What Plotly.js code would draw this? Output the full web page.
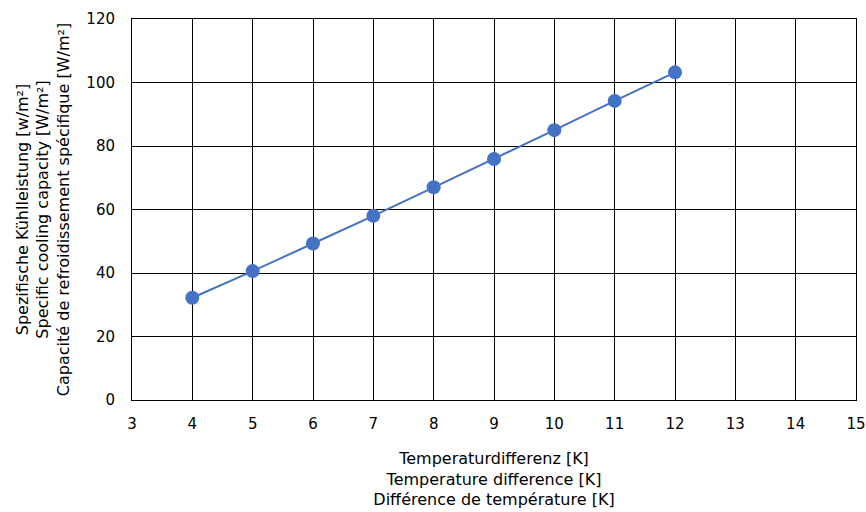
<!DOCTYPE html>
<html><head><meta charset="utf-8">
<script src="https://cdn.plot.ly/plotly-3.0.1.min.js"></script>
<style>html,body{margin:0;padding:0;background:#fff}#c{width:866px;height:512px}</style>
</head><body><div id="c"></div>
<script>
const tempDiff = [4, 5, 6, 7, 8, 9, 10, 11, 12];
const coolingCapacity = [32.2, 40.6, 49.3, 58.0, 67.0, 75.9, 85.0, 94.2, 103.2];
const xTitle = "Temperaturdifferenz [K]<br>Temperature difference [K]<br>Différence de température [K]";
const yTitle = "Spezifische Kühlleistung [w/m²]<br>Specific cooling capacity [W/m²]<br>Capacité de refroidissement spécifique [W/m²]";

Plotly.newPlot('c', [{
  x: tempDiff, y: coolingCapacity, type: 'scatter', mode: 'lines+markers',
  line: {color: '#4472C4', width: 2},
  marker: {color: '#4472C4', size: 14}
}], {
  width: 866, height: 512,
  margin: {l: 132, r: 10, t: 19, b: 112},
  paper_bgcolor: '#fff', plot_bgcolor: '#fff',
  showlegend: false,
  font: {family: '"DejaVu Sans", sans-serif', size: 16, color: '#000'},
  xaxis: {
    range: [3, 15], dtick: 1, tick0: 3, showgrid: true, gridcolor: '#000', gridwidth: 1,
    showline: true, linecolor: '#000', linewidth: 1, mirror: true, zeroline: false,
    ticks: '', ticklen: 0, ticklabelstandoff: 10, tickfont: {size: 15},
    title: {text: xTitle, font: {size: 16}, standoff: 20}
  },
  yaxis: {
    range: [0, 120], dtick: 20, showgrid: true, gridcolor: '#000', gridwidth: 1,
    showline: true, linecolor: '#000', linewidth: 1, mirror: true, zeroline: false,
    ticks: '', ticklen: 0, ticklabelstandoff: 13, tickfont: {size: 15},
    title: {text: yTitle, font: {size: 16}, standoff: 12}
  }
}, {displayModeBar: false, staticPlot: true});
</script></body></html>
